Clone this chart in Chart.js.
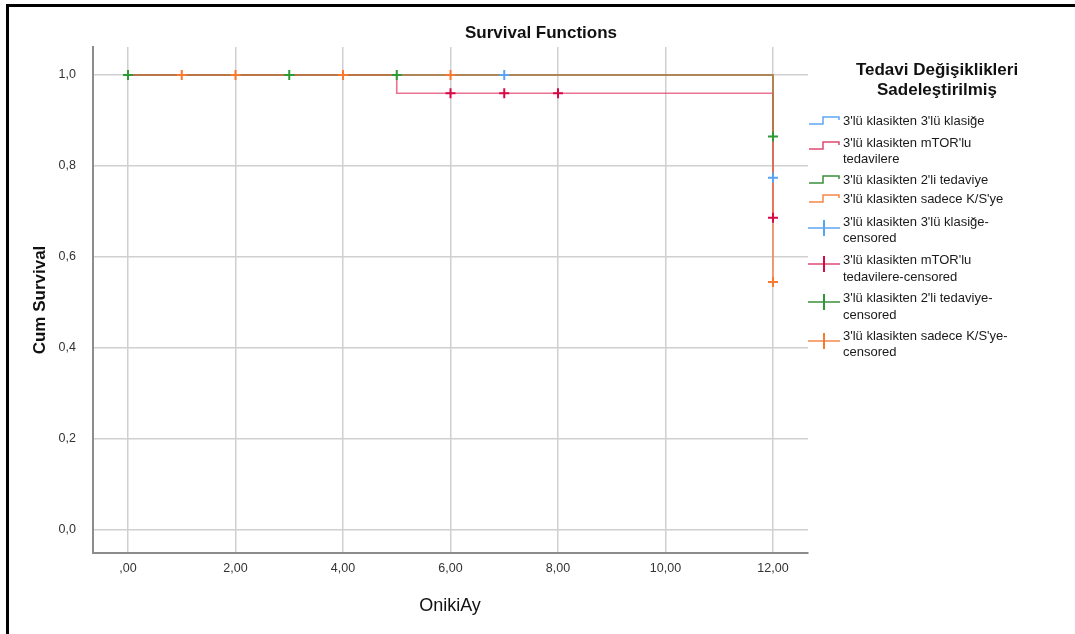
<!DOCTYPE html>
<html>
<head>
<meta charset="utf-8">
<script src="https://cdn.jsdelivr.net/npm/chart.js@4/dist/chart.umd.min.js"></script>
<style>
  html, body { margin: 0; padding: 0; background: #fff; }
  #wrap { width: 1075px; height: 634px; position: relative; }
</style>
</head>
<body>
<div id="wrap"><canvas id="c" width="1075" height="634"></canvas></div>
<script>
// Kaplan-Meier step curves (time in months, cumulative survival)
const blueTimes = [0, 12];
const blueSurv = [1.0, 0.774];
const redTimes = [0, 5, 12];
const redSurv = [1.0, 0.960, 0.686];
const greenTimes = [0, 12];
const greenSurv = [1.0, 0.865];
const orangeTimes = [0, 12];
const orangeSurv = [1.0, 0.545];

// Censored observations
const blueCensTimes = [7, 12];
const blueCensSurv = [1.0, 0.774];
const redCensTimes = [6, 7, 8, 12];
const redCensSurv = [0.960, 0.960, 0.960, 0.686];
const greenCensTimes = [0, 3, 5, 12];
const greenCensSurv = [1.0, 1.0, 1.0, 0.865];
const orangeCensTimes = [1, 2, 4, 6, 12];
const orangeCensSurv = [1.0, 1.0, 1.0, 1.0, 0.545];

// Axis ticks
const xTickValues = [0, 2, 4, 6, 8, 10, 12];
const xTickLabels = [',00', '2,00', '4,00', '6,00', '8,00', '10,00', '12,00'];
const yTickValues = [0, 0.2, 0.4, 0.6, 0.8, 1.0];
const yTickLabels = ['0,0', '0,2', '0,4', '0,6', '0,8', '1,0'];

// Legend entries
const groupNames = [
  "3'lü klasikten 3'lü klasiğe",
  "3'lü klasikten mTOR'lu tedavilere",
  "3'lü klasikten 2'li tedaviye",
  "3'lü klasikten sadece K/S'ye"
];

const FONT = '"Liberation Sans", Arial, sans-serif';
const lineCol = ['rgba(80,150,240,0.75)', 'rgba(222,40,90,0.65)', 'rgba(40,140,50,0.7)', 'rgba(245,115,50,0.75)'];
const markCol = ['#5aa2f2', '#d80a45', '#2e9a36', '#f77a30'];
const legLineCol = ['#5ea6f2', '#e04a72', '#3a8f3a', '#f5884a'];

const pts = (xs, ys) => xs.map((x, i) => ({ x: x, y: ys[i] }));

function stepSet(xs, ys, i) {
  return {
    type: 'line', data: pts(xs, ys), stepped: 'before',
    borderColor: lineCol[i], borderWidth: 1.6, pointRadius: 0,
    fill: false, order: 10 - i
  };
}
function censSet(xs, ys, i) {
  return {
    type: 'scatter', data: pts(xs, ys), pointStyle: 'cross',
    pointRadius: 5, pointBorderWidth: 2, borderColor: markCol[i],
    backgroundColor: markCol[i], showLine: false, order: 5 - i
  };
}

const decor = {
  id: 'decor',
  afterDraw(chart) {
    const ctx = chart.ctx;
    ctx.save();
    // frame
    ctx.fillStyle = '#000';
    ctx.fillRect(6, 4, 1075 - 6, 3);
    ctx.fillRect(6, 4, 3, 634 - 4);

    ctx.fillStyle = '#111';
    ctx.textAlign = 'center';
    ctx.textBaseline = 'middle';
    ctx.font = 'bold 17px ' + FONT;
    ctx.fillText('Survival Functions', 541, 33);

    ctx.font = '18px ' + FONT;
    ctx.fillText('OnikiAy', 450, 606);

    ctx.save();
    ctx.translate(40, 300);
    ctx.rotate(-Math.PI / 2);
    ctx.font = 'bold 17px ' + FONT;
    ctx.fillText('Cum Survival', 0, 0);
    ctx.restore();

    // legend
    ctx.font = 'bold 17px ' + FONT;
    ctx.fillText('Tedavi Değişiklikleri', 937, 70);
    ctx.fillText('Sadeleştirilmiş', 937, 90);

    ctx.textAlign = 'left';
    ctx.font = '13px ' + FONT;
    const tx = 843;
    const stepRows = [[121], [146], [180], [199]];
    stepRows.forEach((rows, i) => {
      const y = rows[0];
      ctx.strokeStyle = legLineCol[i];
      ctx.lineWidth = 1.5;
      ctx.beginPath();
      ctx.moveTo(809, y + 3);
      ctx.lineTo(823, y + 3);
      ctx.lineTo(823, y - 4);
      ctx.lineTo(839, y - 4);
      ctx.lineTo(839, y - 1);
      ctx.stroke();
    });
    const textRows = [
      [[121, groupNames[0]]],
      [[143, "3'lü klasikten mTOR'lu"], [159, 'tedavilere']],
      [[180, groupNames[2]]],
      [[199, groupNames[3]]],
      [[222, "3'lü klasikten 3'lü klasiğe-"], [238, 'censored']],
      [[260, "3'lü klasikten mTOR'lu"], [277, 'tedavilere-censored']],
      [[298, "3'lü klasikten 2'li tedaviye-"], [315, 'censored']],
      [[336, "3'lü klasikten sadece K/S'ye-"], [352, 'censored']]
    ];
    ctx.fillStyle = '#1a1a1a';
    textRows.forEach(rows => rows.forEach(r => ctx.fillText(r[1], tx, r[0])));

    const plusY = [228, 264, 302, 341];
    plusY.forEach((y, i) => {
      ctx.strokeStyle = legLineCol[i];
      ctx.lineWidth = 1.5;
      ctx.beginPath();
      ctx.moveTo(808, y);
      ctx.lineTo(840, y);
      ctx.stroke();
      ctx.strokeStyle = markCol[i];
      ctx.lineWidth = 2;
      ctx.beginPath();
      ctx.moveTo(824, y - 8);
      ctx.lineTo(824, y + 8);
      ctx.stroke();
    });
    ctx.restore();
  }
};

new Chart(document.getElementById('c'), {
  data: {
    datasets: [
      stepSet(blueTimes, blueSurv, 0),
      stepSet(redTimes, redSurv, 1),
      stepSet(greenTimes, greenSurv, 2),
      stepSet(orangeTimes, orangeSurv, 3),
      censSet(blueCensTimes, blueCensSurv, 0),
      censSet(redCensTimes, redCensSurv, 1),
      censSet(greenCensTimes, greenCensSurv, 2),
      censSet(orangeCensTimes, orangeCensSurv, 3)
    ]
  },
  options: {
    responsive: false,
    animation: false,
    layout: { padding: { left: 43, top: 47, right: 267, bottom: 41 } },
    plugins: { legend: { display: false }, title: { display: false }, tooltip: { enabled: false } },
    scales: {
      x: {
        type: 'linear', min: -0.651, max: 12.651,
        afterFit: s => { s.height = 40; },
        afterBuildTicks: s => { s.ticks = xTickValues.map(v => ({ value: v })); },
        ticks: {
          padding: 8, color: '#333', font: { family: FONT, size: 12.5 },
          maxRotation: 0, autoSkip: false,
          callback: (v) => xTickLabels[xTickValues.indexOf(v)]
        },
        grid: { color: '#d0d0d0', lineWidth: 1.5, drawTicks: false },
        border: { color: '#8c8c8c', width: 2 }
      },
      y: {
        type: 'linear', min: -0.0505, max: 1.0615,
        afterFit: s => { s.width = 50; },
        afterBuildTicks: s => { s.ticks = yTickValues.map(v => ({ value: v })); },
        ticks: {
          padding: 17, color: '#333', font: { family: FONT, size: 12.5 },
          autoSkip: false,
          callback: (v) => {
            const k = yTickValues.findIndex(t => Math.abs(t - v) < 1e-9);
            return yTickLabels[k];
          }
        },
        grid: { color: '#d0d0d0', lineWidth: 1.5, drawTicks: false },
        border: { color: '#8c8c8c', width: 2 }
      }
    }
  },
  plugins: [decor]
});
</script>
</body>
</html>
